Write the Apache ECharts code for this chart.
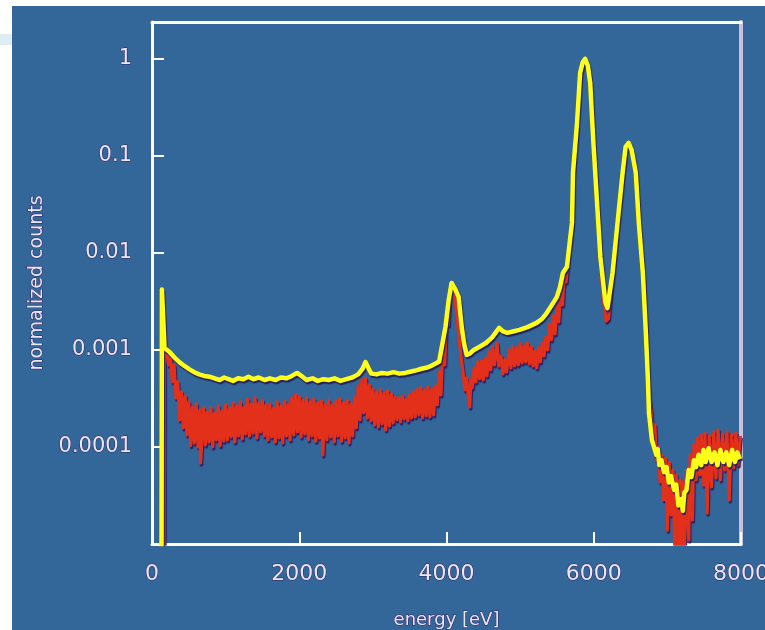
<!DOCTYPE html>
<html><head><meta charset="utf-8">
<script src="https://cdn.jsdelivr.net/npm/echarts@6/dist/echarts.min.js"></script>
<style>
html,body{margin:0;padding:0;background:#fff;width:765px;height:630px;overflow:hidden;position:relative}
#chart{position:absolute;left:12px;top:6px;width:753px;height:624px}
#deco{position:absolute;left:0;top:34px;width:12px;height:11px;background:#dcedf3}
</style></head><body>
<div id="deco"></div>
<div id="chart"></div>
<script>
const xTickLabels = ['0', '2000', '4000', '6000', '8000'];
const yTickLabels = ['0.0001', '0.001', '0.01', '0.1', '1'];
const xAxisName = 'energy [eV]';
const yAxisName = 'normalized counts';

// [energy eV, normalized counts]
const yellowSpectrum = [
[125,1e-7],[135,4.2e-3],[170,1.05e-3],[240,9.5e-4],[310,8.3e-4],[380,7.4e-4],[445,6.8e-4],[510,6.3e-4],[575,5.9e-4],[640,5.6e-4],
[710,5.4e-4],[780,5.3e-4],[850,5.1e-4],[920,4.9e-4],[980,5.2e-4],[1040,5.0e-4],[1100,4.8e-4],[1170,5.1e-4],[1240,5.0e-4],[1310,5.3e-4],
[1380,5.0e-4],[1450,5.2e-4],[1530,4.9e-4],[1600,5.1e-4],[1680,4.9e-4],[1750,5.2e-4],[1830,5.1e-4],[1900,5.4e-4],[1970,5.8e-4],[2030,5.4e-4],
[2100,4.9e-4],[2180,5.1e-4],[2250,4.8e-4],[2330,5.0e-4],[2400,4.9e-4],[2480,5.1e-4],[2560,4.8e-4],[2640,5.0e-4],[2720,5.2e-4],[2800,5.6e-4],
[2860,6.4e-4],[2900,7.5e-4],[2940,6.5e-4],[2980,5.7e-4],[3050,5.6e-4],[3120,5.8e-4],[3200,5.7e-4],[3280,5.9e-4],[3360,5.7e-4],[3440,5.8e-4],
[3520,6.0e-4],[3600,6.2e-4],[3660,6.4e-4],[3740,6.6e-4],[3800,6.9e-4],[3860,7.3e-4],[3900,7.6e-4],[3986,1.73e-3],[4030,3.27e-3],[4069,4.9e-3],
[4085,5.0e-3],[4120,4.2e-3],[4165,3.5e-3],[4206,1.73e-3],[4240,1.15e-3],[4275,8.9e-4],[4320,9.2e-4],[4371,1.0e-3],[4450,1.08e-3],[4536,1.18e-3],
[4620,1.35e-3],[4715,1.69e-3],[4770,1.55e-3],[4825,1.5e-3],[4900,1.55e-3],[4990,1.61e-3],[5100,1.72e-3],[5223,1.9e-3],[5300,2.1e-3],[5361,2.4e-3],
[5430,2.9e-3],[5498,3.5e-3],[5540,4.4e-3],[5581,6.2e-3],[5636,7.2e-3],[5677,1.36e-2],[5704,2.04e-2],[5718,6.7e-2],[5773,0.219],[5815,0.72],
[5850,0.92],[5883,1.0],[5920,0.85],[5952,0.566],[5993,0.146],[6048,0.030],[6090,0.0091],[6158,0.0031],[6186,0.0027],[6255,0.0062],
[6323,0.0204],[6392,0.067],[6433,0.124],[6474,0.136],[6515,0.115],[6571,0.067],[6612,0.0204],[6667,0.0062],[6708,0.0015],[6736,4.9e-4],
[6750,2.24e-4],[6790,1.18e-4],[6818,1.0e-4],[6850,8.3e-5],[6870,9.5e-5],[6890,6.5e-5],[6920,7.3e-5],[6956,5.5e-5],[6990,6.2e-5],[7020,4.3e-5],
[7050,5.0e-5],[7093,3.6e-5],[7120,4.1e-5],[7150,2.5e-5],[7189,2.9e-5],[7210,2.2e-5],[7231,3.4e-5],[7260,3.6e-5],[7290,5.8e-5],[7327,4.9e-5],
[7360,7.3e-5],[7390,6.2e-5],[7423,8.3e-5],[7460,6.5e-5],[7490,9.3e-5],[7520,7.0e-5],[7560,9.7e-5],[7600,7.0e-5],[7640,8.8e-5],[7680,6.5e-5],
[7720,9.3e-5],[7760,7.0e-5],[7800,8.8e-5],[7840,6.5e-5],[7880,9.3e-5],[7918,7.0e-5],[7950,8.8e-5],[7986,7.5e-5]
];

const redSpectrum = [
[160,1e-7],[168,9.6e-4],[200,9.54e-4],[225,7.00e-4],[250,8.67e-4],[275,4.68e-4],[300,7.00e-4],[325,3.20e-4],[350,4.68e-4],[375,1.90e-4],
[400,3.69e-4],[425,1.57e-4],[450,3.36e-4],[475,1.33e-4],[500,2.91e-4],[525,1.03e-4],[550,2.58e-4],[575,1.10e-4],[600,2.78e-4],[625,1.00e-4],
[650,2.41e-4],[660,6.84e-5],[700,2.53e-4],[725,1.05e-4],[750,2.30e-4],[775,1.13e-4],[800,2.53e-4],[825,1.00e-4],[850,2.24e-4],[875,1.18e-4],
[900,2.65e-4],[925,1.03e-4],[950,2.35e-4],[975,1.15e-4],[1000,2.71e-4],[1025,1.18e-4],[1050,2.53e-4],[1075,1.27e-4],[1100,2.84e-4],[1125,1.13e-4],
[1150,2.65e-4],[1175,1.30e-4],[1200,2.91e-4],[1225,1.21e-4],[1250,2.58e-4],[1275,1.36e-4],[1300,3.12e-4],[1325,1.30e-4],[1350,2.78e-4],[1375,1.39e-4],
[1400,3.20e-4],[1425,1.24e-4],[1450,2.84e-4],[1475,1.43e-4],[1500,3.05e-4],[1525,1.30e-4],[1550,2.71e-4],[1575,1.18e-4],[1600,2.78e-4],[1625,1.27e-4],
[1650,2.53e-4],[1675,1.13e-4],[1700,2.91e-4],[1725,1.24e-4],[1750,2.65e-4],[1775,1.10e-4],[1800,2.98e-4],[1825,1.30e-4],[1850,2.78e-4],[1875,1.18e-4],
[1900,3.20e-4],[1925,1.33e-4],[1950,3.44e-4],[1975,1.43e-4],[2000,3.28e-4],[2025,1.27e-4],[2050,3.05e-4],[2075,1.36e-4],[2100,3.20e-4],[2125,1.18e-4],
[2150,2.91e-4],[2175,1.30e-4],[2200,3.12e-4],[2225,1.15e-4],[2250,2.84e-4],[2275,1.24e-4],[2300,2.98e-4],[2320,8.27e-5],[2350,2.78e-4],[2375,1.18e-4],
[2400,3.05e-4],[2425,1.27e-4],[2450,2.71e-4],[2475,1.13e-4],[2500,2.98e-4],[2525,1.30e-4],[2550,3.12e-4],[2575,1.15e-4],[2600,2.84e-4],[2625,1.24e-4],
[2650,3.05e-4],[2675,1.10e-4],[2700,2.78e-4],[2725,1.30e-4],[2750,3.20e-4],[2775,1.57e-4],[2800,4.26e-4],[2825,1.90e-4],[2850,4.91e-4],[2875,2.24e-4],
[2900,5.14e-4],[2925,1.99e-4],[2950,4.36e-4],[2975,1.86e-4],[3000,3.96e-4],[3025,1.69e-4],[3050,3.69e-4],[3075,1.61e-4],[3100,3.87e-4],[3125,1.73e-4],
[3150,3.61e-4],[3175,1.50e-4],[3200,3.78e-4],[3225,1.65e-4],[3250,3.52e-4],[3275,1.77e-4],[3300,3.28e-4],[3325,1.90e-4],[3350,3.20e-4],[3375,1.81e-4],
[3400,3.36e-4],[3425,1.95e-4],[3450,3.12e-4],[3475,1.86e-4],[3500,3.44e-4],[3525,1.99e-4],[3550,3.69e-4],[3575,2.04e-4],[3600,3.96e-4],[3625,2.14e-4],
[3650,4.06e-4],[3675,1.99e-4],[3700,3.87e-4],[3725,2.09e-4],[3750,4.16e-4],[3775,2.04e-4],[3800,3.96e-4],[3825,2.14e-4],[3850,4.26e-4],[3875,2.71e-4],
[3900,5.93e-4],[3925,3.44e-4],[3950,1.13e-3],[3975,7.00e-4],[4000,2.30e-3],[4025,1.81e-3],[4050,4.36e-3],[4080,4.79e-3],[4110,3.60e-3],[4140,2.30e-3],
[4160,1.61e-3],[4180,1.13e-3],[4200,8.27e-4],[4225,5.93e-4],[4250,3.87e-4],[4275,5.15e-4],[4300,3.05e-4],[4316,2.58e-4],[4330,4.91e-4],[4350,4.06e-4],
[4375,6.52e-4],[4400,4.68e-4],[4425,7.52e-4],[4450,5.03e-4],[4475,7.70e-4],[4500,4.91e-4],[4525,8.27e-4],[4550,5.39e-4],[4575,9.54e-4],[4600,6.22e-4],
[4625,1.08e-3],[4650,7.00e-4],[4687,1.18e-3],[4710,6.84e-4],[4740,8.67e-4],[4765,5.65e-4],[4790,7.89e-4],[4815,5.93e-4],[4850,1.00e-3],[4875,6.52e-4],
[4900,1.08e-3],[4925,6.84e-4],[4950,1.05e-3],[4975,7.00e-4],[5000,1.16e-3],[5025,7.34e-4],[5050,1.10e-3],[5075,7.52e-4],[5100,1.18e-3],[5125,7.17e-4],
[5150,1.08e-3],[5175,6.84e-4],[5200,9.77e-4],[5225,6.52e-4],[5250,1.05e-3],[5275,7.52e-4],[5300,1.18e-3],[5325,8.67e-4],[5350,1.36e-3],[5375,1.00e-3],
[5400,1.85e-3],[5425,1.27e-3],[5450,2.25e-3],[5475,1.46e-3],[5500,2.84e-3],[5525,1.95e-3],[5550,4.06e-3],[5575,2.91e-3],[5600,6.37e-3],[5625,5.03e-3],
[5650,8.88e-3],[5680,0.0128],[5704,0.019],[5718,0.062],[5773,0.205],[5815,0.69],[5850,0.9],[5883,0.98],[5920,0.83],[5952,0.55],
[5993,0.14],[6048,0.028],[6090,0.0084],[6130,0.0034],[6168,0.00198],[6200,0.0021],[6255,0.0057],[6323,0.0195],[6392,0.064],[6433,0.12],
[6474,0.132],[6515,0.11],[6571,0.064],[6612,0.0195],[6667,0.006],[6708,0.0015],[6736,4.36e-4],[6760,3.05e-4],[6777,2.41e-4],[6800,1.50e-4],
[6830,1.69e-4],[6850,7.34e-5],[6873,1.00e-4],[6900,4.36e-5],[6925,8.27e-5],[6950,2.84e-5],[6975,7.70e-5],[7000,1.39e-5],[7025,7.00e-5],[7050,1.99e-5],
[7075,5.79e-5],[7100,9.0e-6],[7120,5.14e-5],[7148,9.0e-6],[7170,4.57e-5],[7190,6.0e-6],[7210,4.36e-5],[7231,8.7e-6],[7260,5.79e-5],[7290,1.10e-5],
[7310,8.27e-5],[7340,1.77e-5],[7360,1.05e-4],[7390,4.57e-5],[7410,1.24e-4],[7440,5.14e-5],[7460,1.33e-4],[7490,4.06e-5],[7510,1.39e-4],[7540,2.09e-5],
[7570,1.30e-4],[7600,3.87e-5],[7630,1.43e-4],[7660,4.79e-5],[7690,1.50e-4],[7720,4.57e-5],[7750,1.36e-4],[7780,5.79e-5],[7810,1.43e-4],[7840,2.84e-5],
[7870,1.33e-4],[7900,6.07e-5],[7930,1.39e-4],[7960,6.52e-5],[7990,1.30e-4]
];

const textCol = '#ece6f6';
const textEdge = '#2e2266';
const font = 'DejaVu Sans';

const chart = echarts.init(document.getElementById('chart'), null, {renderer: 'canvas'});
chart.setOption({
  animation: false,
  backgroundColor: '#336699',
  grid: {left: 140, right: 24, top: 16, bottom: 86, containLabel: false, outerBoundsMode: 'none'},
  xAxis: [{
    type: 'value', position: 'bottom', min: 0, max: 8000, interval: 2000,
    name: xAxisName, nameLocation: 'middle', nameGap: 67,
    nameTextStyle: {color: textCol, fontSize: 18, fontFamily: font, textBorderColor: textEdge, textBorderWidth: 1},
    axisLine: {onZero: false, lineStyle: {color: '#ffffff', width: 3}},
    axisTick: {inside: true, length: 12, lineStyle: {color: '#ffffff', width: 2}},
    axisLabel: {margin: 19, fontSize: 22, fontFamily: font, color: textCol, textBorderColor: textEdge, textBorderWidth: 1,
      formatter: v => xTickLabels[Math.round(v / 2000)] || ''},
    splitLine: {show: false}
  }, {
    type: 'value', position: 'top', min: 0, max: 1,
    axisLine: {show: true, onZero: false, lineStyle: {color: '#ffffff', width: 3}},
    axisTick: {show: false}, axisLabel: {show: false}, splitLine: {show: false}
  }],
  yAxis: [{
    type: 'log', logBase: 10, min: 1e-5, max: 2.4,
    name: yAxisName, nameLocation: 'middle', nameGap: 104, nameRotate: 90,
    nameTextStyle: {color: textCol, fontSize: 19, fontFamily: font, textBorderColor: textEdge, textBorderWidth: 1},
    axisLine: {show: true, onZero: false, lineStyle: {color: '#ffffff', width: 3}},
    axisTick: {inside: true, length: 12, lineStyle: {color: '#ffffff', width: 2}},
    minorTick: {show: false},
    axisLabel: {margin: 20, fontSize: 21, fontFamily: font, color: textCol, textBorderColor: textEdge, textBorderWidth: 1,
      formatter: function (v) {
        const e = Math.log10(v);
        const r = Math.round(e);
        if (Math.abs(e - r) > 1e-6 || r < -4 || r > 0) return '';
        return yTickLabels[r + 4];
      }},
    splitLine: {show: false}
  }, {
    type: 'value', position: 'right', min: 0, max: 1,
    axisLine: {show: true, onZero: false, lineStyle: {color: '#cbbfdc', width: 4}},
    axisTick: {show: false}, axisLabel: {show: false}, splitLine: {show: false}
  }],
  series: [{
    type: 'line', name: 'red', data: redSpectrum, xAxisIndex: 0, yAxisIndex: 0,
    symbol: 'none', showSymbol: false, clip: true, silent: true, z: 2,
    lineStyle: {color: '#e3301b', width: 3.2, join: 'round', shadowColor: '#2b1c66', shadowOffsetX: 1, shadowOffsetY: 2, shadowBlur: 1}
  }, {
    type: 'line', name: 'yellow', data: yellowSpectrum, xAxisIndex: 0, yAxisIndex: 0,
    symbol: 'none', showSymbol: false, clip: true, silent: true, z: 3,
    lineStyle: {color: '#ffff1a', width: 4.5, join: 'round', shadowColor: '#26205e', shadowOffsetX: 1, shadowOffsetY: 2, shadowBlur: 1}
  }]
});
</script>
</body></html>
